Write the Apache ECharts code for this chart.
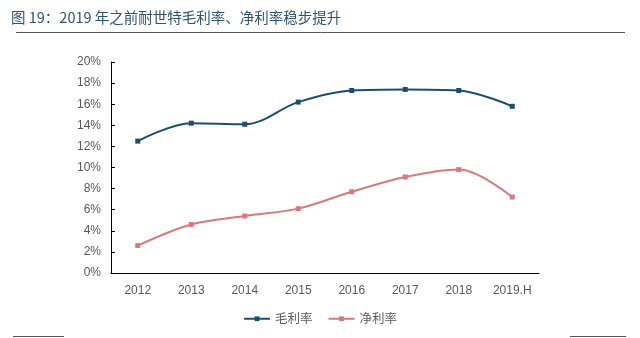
<!DOCTYPE html>
<html><head><meta charset="utf-8">
<script src="https://cdn.jsdelivr.net/npm/echarts@6/dist/echarts.min.js"></script>
<style>html,body{margin:0;padding:0;background:#fff;}#c{width:640px;height:338px;}</style>
</head><body><div id="c"></div>
<script>
const categories = ['2012','2013','2014','2015','2016','2017','2018','2019.H'];
const grossMargin = [12.5, 14.2, 14.1, 16.2, 17.3, 17.4, 17.3, 15.8];
const netMargin = [2.6, 4.6, 5.4, 6.1, 7.7, 9.1, 9.8, 7.2];
const titleText = '图 19：2019 年之前耐世特毛利率、净利率稳步提升';
const seriesNames = ['毛利率', '净利率'];

const chart = echarts.init(document.getElementById('c'));
const font = '"Liberation Sans", Arial, "Noto Sans CJK SC", sans-serif';
chart.setOption({
  animation: false,
  backgroundColor: '#fff',
  title: {
    text: titleText, left: 6, top: 5,
    textStyle: {fontFamily: '"Noto Sans CJK SC", sans-serif', fontSize: 14.5, fontWeight: 'normal', color: '#2e5472'}
  },
  graphic: [
    {type: 'line', shape: {x1: 16, y1: 32.5, x2: 625, y2: 32.5}, style: {stroke: '#555', lineWidth: 1}},
    {type: 'line', shape: {x1: 13, y1: 336.5, x2: 64, y2: 336.5}, style: {stroke: '#555', lineWidth: 1}},
    {type: 'line', shape: {x1: 570, y1: 336.5, x2: 626, y2: 336.5}, style: {stroke: '#555', lineWidth: 1}}
  ],
  legend: {
    data: seriesNames, bottom: 8, left: 'center', itemWidth: 26, itemHeight: 6, itemGap: 15,
    textStyle: {fontFamily: '"Noto Sans CJK SC", sans-serif', fontSize: 12.5, color: '#595959'}
  },
  grid: {left: 111, right: 101, top: 62, bottom: 65},
  xAxis: {
    type: 'category', data: categories, boundaryGap: true,
    axisLine: {lineStyle: {color: '#000', width: 1}},
    axisTick: {inside: true, length: 4, lineStyle: {color: '#000'}},
    axisLabel: {fontFamily: font, fontSize: 12, color: '#595959', margin: 12}
  },
  yAxis: {
    type: 'value', min: 0, max: 20, interval: 2,
    axisLine: {show: true, lineStyle: {color: '#000', width: 1}},
    axisTick: {show: true, inside: true, length: 4, lineStyle: {color: '#000'}},
    splitLine: {show: false},
    axisLabel: {fontFamily: font, fontSize: 12, color: '#595959', margin: 10, formatter: '{value}%'}
  },
  series: [
    {name: seriesNames[0], type: 'line', data: grossMargin, smooth: 0.35,
     symbol: 'rect', symbolSize: 5, itemStyle: {color: '#1b4f72'}, lineStyle: {color: '#1b4f72', width: 2}},
    {name: seriesNames[1], type: 'line', data: netMargin, smooth: 0.35,
     symbol: 'rect', symbolSize: 5, itemStyle: {color: '#d9797b'}, lineStyle: {color: '#d9797b', width: 2}}
  ]
});
</script></body></html>
